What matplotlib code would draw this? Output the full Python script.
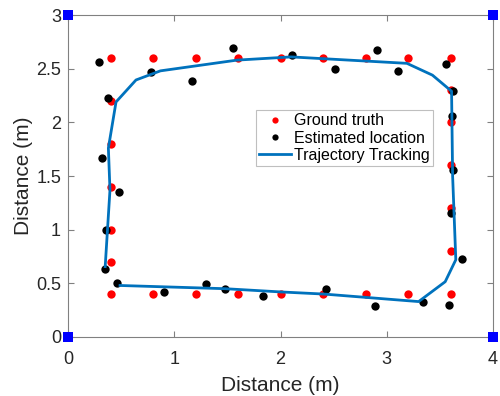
import matplotlib
matplotlib.use("Agg")
import matplotlib.pyplot as plt

plt.rcParams["font.family"] = ["Liberation Sans", "DejaVu Sans"]

# ground truth positions (m)
gt_x = [0.4, 0.8, 1.2, 1.6, 2.0, 2.4, 2.8, 3.2, 3.6,
        0.4, 0.4, 0.4, 0.4, 0.4,
        0.4, 0.8, 1.2, 1.6, 2.0, 2.4, 2.8, 3.2, 3.6,
        3.6, 3.6, 3.6, 3.6, 3.6]
gt_y = [2.6, 2.6, 2.6, 2.6, 2.6, 2.6, 2.6, 2.6, 2.6,
        2.2, 1.8, 1.4, 1.0, 0.7,
        0.4, 0.4, 0.4, 0.4, 0.4, 0.4, 0.4, 0.4, 0.4,
        2.3, 2.0, 1.6, 1.2, 0.8]

# estimated locations (m)
est_x = [0.295, 0.78, 1.17, 1.55, 2.11, 2.51, 2.91, 3.11, 3.56,
         0.373, 0.32, 0.483, 0.358, 0.348, 0.458,
         0.90, 1.30, 1.48, 1.835, 2.43, 2.89, 3.34, 3.59,
         3.62, 3.617, 3.626, 3.60, 3.71]
est_y = [2.56, 2.47, 2.386, 2.69, 2.625, 2.50, 2.675, 2.48, 2.545,
         2.23, 1.67, 1.355, 1.00, 0.634, 0.50,
         0.42, 0.49, 0.45, 0.385, 0.45, 0.29, 0.33, 0.30,
         2.29, 2.06, 1.56, 1.16, 0.724]

# tracked trajectory (m)
traj_x = [0.49, 1.48, 2.0, 2.41, 3.30, 3.55, 3.65, 3.62, 3.61, 3.43, 3.19,
          2.1, 1.59, 0.87, 0.64, 0.452, 0.38, 0.395, 0.35]
traj_y = [0.48, 0.45, 0.42, 0.40, 0.33, 0.515, 0.72, 1.5, 2.29, 2.44, 2.55,
          2.61, 2.58, 2.48, 2.395, 2.19, 1.76, 1.37, 0.656]

# anchor positions (m)
anchor_x = [0, 0, 4, 4]
anchor_y = [0, 3, 0, 3]

fig = plt.figure(figsize=(5, 3.96), dpi=100)
ax = fig.add_axes([0.136, 0.149, 0.85, 0.813])

ax.plot(gt_x, gt_y, "o", color="red", markersize=6, markeredgewidth=0,
        label="Ground truth")
ax.plot(est_x, est_y, "o", color="black", markersize=6, markeredgewidth=0,
        label="Estimated location")
ax.plot(traj_x, traj_y, "-", color="#0072BD", linewidth=2,
        label="Trajectory Tracking")
ax.plot(anchor_x, anchor_y, "s", color="blue", markersize=6.5,
        markeredgewidth=0, clip_on=False, zorder=5)

ax.set_xlim(0, 4)
ax.set_ylim(0, 3)
ax.set_xticks([0, 1, 2, 3, 4])
ax.set_yticks([0, 0.5, 1, 1.5, 2, 2.5, 3])
ax.set_yticklabels(["0", "0.5", "1", "1.5", "2", "2.5", "3"])
ax.tick_params(direction="in", top=True, right=True, length=4,
               labelsize=13, colors="#808080", labelcolor="#262626")
ax.tick_params(axis="x", pad=10)
ax.tick_params(axis="y", pad=5)
for s in ax.spines.values():
    s.set_color("#808080")
    s.set_linewidth(0.8)

ax.set_xlabel("Distance (m)", fontsize=15, color="#262626", labelpad=6)
ax.set_ylabel("Distance (m)", fontsize=15, color="#262626", labelpad=2)

leg = ax.legend(loc="upper left", bbox_to_anchor=(0.442, 0.705),
                fontsize=11.5, fancybox=False, framealpha=1,
                edgecolor="#bfbfbf", borderpad=0.2, handlelength=2.0,
                handletextpad=0.2, labelspacing=0.15, borderaxespad=0,
                markerscale=0.75)
leg.get_frame().set_linewidth(0.8)

fig.savefig("out.png", dpi=100)
